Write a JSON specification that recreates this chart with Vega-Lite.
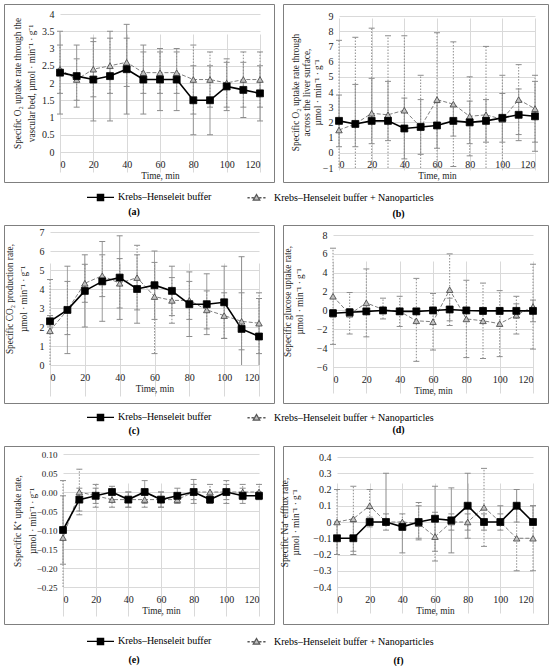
{
  "$schema": "https://vega.github.io/schema/vega-lite/v6.json",
  "background": "white",
  "padding": {"left": 3, "top": 3, "right": 0, "bottom": 0},
  "data": {"values": [
    {"p":"a","g":"N","t":0,"v":2.4,"lo":1.7,"hi":3.1},{"p":"a","g":"N","t":10,"v":2.1,"lo":1.5,"hi":2.7},{"p":"a","g":"N","t":20,"v":2.4,"lo":1.6,"hi":3.2},{"p":"a","g":"N","t":30,"v":2.5,"lo":1.7,"hi":3.3},{"p":"a","g":"N","t":40,"v":2.6,"lo":1.9,"hi":3.3},{"p":"a","g":"N","t":50,"v":2.3,"lo":1.7,"hi":2.9},{"p":"a","g":"N","t":60,"v":2.3,"lo":1.7,"hi":2.9},{"p":"a","g":"N","t":70,"v":2.3,"lo":1.7,"hi":2.9},{"p":"a","g":"N","t":80,"v":2.1,"lo":1.1,"hi":3.1},{"p":"a","g":"N","t":90,"v":2.1,"lo":1.3,"hi":2.9},{"p":"a","g":"N","t":100,"v":2.0,"lo":1.3,"hi":2.7},{"p":"a","g":"N","t":110,"v":2.1,"lo":1.3,"hi":2.9},{"p":"a","g":"N","t":120,"v":2.1,"lo":1.3,"hi":2.9},
    {"p":"a","g":"K","t":0,"v":2.3,"lo":1.1,"hi":3.5},{"p":"a","g":"K","t":10,"v":2.2,"lo":1.3,"hi":3.1},{"p":"a","g":"K","t":20,"v":2.1,"lo":0.9,"hi":3.3},{"p":"a","g":"K","t":30,"v":2.2,"lo":0.9,"hi":3.5},{"p":"a","g":"K","t":40,"v":2.4,"lo":1.1,"hi":3.7},{"p":"a","g":"K","t":50,"v":2.1,"lo":1.1,"hi":3.1},{"p":"a","g":"K","t":60,"v":2.1,"lo":1.2,"hi":3.0},{"p":"a","g":"K","t":70,"v":2.1,"lo":1.2,"hi":3.0},{"p":"a","g":"K","t":80,"v":1.5,"lo":0.5,"hi":2.5},{"p":"a","g":"K","t":90,"v":1.5,"lo":0.5,"hi":2.5},{"p":"a","g":"K","t":100,"v":1.9,"lo":1.2,"hi":2.6},{"p":"a","g":"K","t":110,"v":1.8,"lo":1.0,"hi":2.6},{"p":"a","g":"K","t":120,"v":1.7,"lo":0.9,"hi":2.5},
    {"p":"b","g":"N","t":0,"v":1.5,"lo":-4.4,"hi":7.4},{"p":"b","g":"N","t":10,"v":1.9,"lo":-3.8,"hi":7.6},{"p":"b","g":"N","t":20,"v":2.6,"lo":-3.0,"hi":8.2},{"p":"b","g":"N","t":30,"v":2.5,"lo":-2.7,"hi":7.7},{"p":"b","g":"N","t":40,"v":2.8,"lo":-2.1,"hi":7.7},{"p":"b","g":"N","t":50,"v":1.7,"lo":-1.7,"hi":5.1},{"p":"b","g":"N","t":60,"v":3.5,"lo":-0.9,"hi":7.9},{"p":"b","g":"N","t":70,"v":3.2,"lo":-0.9,"hi":7.3},{"p":"b","g":"N","t":80,"v":2.4,"lo":-0.2,"hi":5.0},{"p":"b","g":"N","t":90,"v":2.5,"lo":-2.0,"hi":7.0},{"p":"b","g":"N","t":100,"v":2.2,"lo":-1.5,"hi":5.1},{"p":"b","g":"N","t":110,"v":3.5,"lo":1.2,"hi":5.8},{"p":"b","g":"N","t":120,"v":2.9,"lo":0.7,"hi":5.1},
    {"p":"b","g":"K","t":0,"v":2.1,"lo":0.4,"hi":3.8},{"p":"b","g":"K","t":10,"v":1.9,"lo":0.4,"hi":4.5},{"p":"b","g":"K","t":20,"v":2.1,"lo":0.6,"hi":4.9},{"p":"b","g":"K","t":30,"v":2.1,"lo":0.8,"hi":4.7},{"p":"b","g":"K","t":40,"v":1.6,"lo":-0.4,"hi":3.6},{"p":"b","g":"K","t":50,"v":1.7,"lo":-0.1,"hi":3.5},{"p":"b","g":"K","t":60,"v":1.8,"lo":0.3,"hi":3.3},{"p":"b","g":"K","t":70,"v":2.1,"lo":1.1,"hi":3.1},{"p":"b","g":"K","t":80,"v":2.0,"lo":0.6,"hi":3.4},{"p":"b","g":"K","t":90,"v":2.1,"lo":0.7,"hi":3.5},{"p":"b","g":"K","t":100,"v":2.3,"lo":0.7,"hi":3.9},{"p":"b","g":"K","t":110,"v":2.5,"lo":0.8,"hi":4.2},{"p":"b","g":"K","t":120,"v":2.4,"lo":0.1,"hi":4.7},
    {"p":"c","g":"N","t":0,"v":1.8,"lo":-0.9,"hi":4.5},{"p":"c","g":"N","t":10,"v":2.9,"lo":1.6,"hi":4.4},{"p":"c","g":"N","t":20,"v":4.3,"lo":3.3,"hi":5.3},{"p":"c","g":"N","t":30,"v":4.7,"lo":3.6,"hi":5.8},{"p":"c","g":"N","t":40,"v":4.3,"lo":3.0,"hi":5.6},{"p":"c","g":"N","t":50,"v":4.6,"lo":2.9,"hi":6.3},{"p":"c","g":"N","t":60,"v":3.6,"lo":0.6,"hi":5.4},{"p":"c","g":"N","t":70,"v":3.4,"lo":2.2,"hi":4.6},{"p":"c","g":"N","t":80,"v":3.4,"lo":2.4,"hi":4.4},{"p":"c","g":"N","t":90,"v":2.9,"lo":1.9,"hi":3.9},{"p":"c","g":"N","t":100,"v":2.6,"lo":1.4,"hi":3.8},{"p":"c","g":"N","t":110,"v":2.3,"lo":0.8,"hi":3.8},{"p":"c","g":"N","t":120,"v":2.2,"lo":0.6,"hi":3.8},
    {"p":"c","g":"K","t":0,"v":2.3,"lo":2.0,"hi":2.6},{"p":"c","g":"K","t":10,"v":2.9,"lo":0.6,"hi":5.2},{"p":"c","g":"K","t":20,"v":3.9,"lo":2.0,"hi":5.8},{"p":"c","g":"K","t":30,"v":4.4,"lo":2.3,"hi":6.5},{"p":"c","g":"K","t":40,"v":4.6,"lo":2.4,"hi":6.8},{"p":"c","g":"K","t":50,"v":4.0,"lo":2.2,"hi":5.8},{"p":"c","g":"K","t":60,"v":4.2,"lo":2.4,"hi":6.0},{"p":"c","g":"K","t":70,"v":3.9,"lo":2.6,"hi":5.2},{"p":"c","g":"K","t":80,"v":3.2,"lo":1.5,"hi":4.9},{"p":"c","g":"K","t":90,"v":3.2,"lo":1.6,"hi":4.8},{"p":"c","g":"K","t":100,"v":3.3,"lo":1.4,"hi":5.2},{"p":"c","g":"K","t":110,"v":1.9,"lo":-1.9,"hi":5.7},{"p":"c","g":"K","t":120,"v":1.5,"lo":-0.5,"hi":3.5},
    {"p":"d","g":"N","t":0,"v":1.5,"lo":-3.6,"hi":6.6},{"p":"d","g":"N","t":10,"v":-0.4,"lo":-2.5,"hi":1.9},{"p":"d","g":"N","t":20,"v":0.8,"lo":-2.8,"hi":4.4},{"p":"d","g":"N","t":30,"v":0.1,"lo":-0.9,"hi":1.3},{"p":"d","g":"N","t":40,"v":-0.1,"lo":-1.7,"hi":1.5},{"p":"d","g":"N","t":50,"v":-1.1,"lo":-5.4,"hi":3.4},{"p":"d","g":"N","t":60,"v":-1.2,"lo":-4.2,"hi":1.8},{"p":"d","g":"N","t":70,"v":2.2,"lo":-1.6,"hi":6.0},{"p":"d","g":"N","t":80,"v":-0.9,"lo":-5.0,"hi":3.2},{"p":"d","g":"N","t":90,"v":-1.1,"lo":-5.1,"hi":2.9},{"p":"d","g":"N","t":100,"v":-1.4,"lo":-4.9,"hi":2.1},{"p":"d","g":"N","t":110,"v":-0.5,"lo":-2.5,"hi":1.5},{"p":"d","g":"N","t":120,"v":0.4,"lo":-4.1,"hi":4.9},
    {"p":"d","g":"K","t":0,"v":-0.3,"lo":-0.7,"hi":0.1},{"p":"d","g":"K","t":10,"v":-0.2,"lo":-0.6,"hi":0.2},{"p":"d","g":"K","t":20,"v":-0.1,"lo":-0.4,"hi":0.2},{"p":"d","g":"K","t":30,"v":0.0,"lo":-0.3,"hi":0.3},{"p":"d","g":"K","t":40,"v":-0.1,"lo":-0.4,"hi":0.2},{"p":"d","g":"K","t":50,"v":-0.1,"lo":-0.4,"hi":0.2},{"p":"d","g":"K","t":60,"v":0.0,"lo":-0.3,"hi":0.3},{"p":"d","g":"K","t":70,"v":0.1,"lo":-1.1,"hi":1.3},{"p":"d","g":"K","t":80,"v":0.0,"lo":-0.3,"hi":0.3},{"p":"d","g":"K","t":90,"v":-0.05,"lo":-0.4,"hi":0.3},{"p":"d","g":"K","t":100,"v":-0.05,"lo":-0.4,"hi":0.3},{"p":"d","g":"K","t":110,"v":-0.05,"lo":-0.8,"hi":0.7},{"p":"d","g":"K","t":120,"v":-0.05,"lo":-1.2,"hi":1.1},
    {"p":"e","g":"N","t":0,"v":-0.12,"lo":-0.27,"hi":0.03},{"p":"e","g":"N","t":10,"v":0.0,"lo":-0.06,"hi":0.06},{"p":"e","g":"N","t":20,"v":-0.01,"lo":-0.04,"hi":0.02},{"p":"e","g":"N","t":30,"v":-0.02,"lo":-0.04,"hi":0.0},{"p":"e","g":"N","t":40,"v":-0.02,"lo":-0.04,"hi":0.0},{"p":"e","g":"N","t":50,"v":-0.02,"lo":-0.04,"hi":0.0},{"p":"e","g":"N","t":60,"v":-0.02,"lo":-0.04,"hi":0.0},{"p":"e","g":"N","t":70,"v":-0.02,"lo":-0.03,"hi":-0.01},{"p":"e","g":"N","t":80,"v":0.0,"lo":-0.02,"hi":0.02},{"p":"e","g":"N","t":90,"v":0.0,"lo":-0.02,"hi":0.02},{"p":"e","g":"N","t":100,"v":0.0,"lo":-0.03,"hi":0.03},{"p":"e","g":"N","t":110,"v":0.0,"lo":-0.02,"hi":0.02},{"p":"e","g":"N","t":120,"v":0.0,"lo":-0.02,"hi":0.02},
    {"p":"e","g":"K","t":0,"v":-0.10,"lo":-0.19,"hi":-0.01},{"p":"e","g":"K","t":10,"v":-0.02,"lo":-0.05,"hi":0.01},{"p":"e","g":"K","t":20,"v":-0.01,"lo":-0.03,"hi":0.01},{"p":"e","g":"K","t":30,"v":0.0,"lo":-0.02,"hi":0.015},{"p":"e","g":"K","t":40,"v":-0.02,"lo":-0.04,"hi":0.0},{"p":"e","g":"K","t":50,"v":0.0,"lo":-0.03,"hi":0.03},{"p":"e","g":"K","t":60,"v":-0.02,"lo":-0.04,"hi":0.0},{"p":"e","g":"K","t":70,"v":-0.01,"lo":-0.03,"hi":0.01},{"p":"e","g":"K","t":80,"v":0.0,"lo":-0.03,"hi":0.033},{"p":"e","g":"K","t":90,"v":-0.02,"lo":-0.03,"hi":-0.01},{"p":"e","g":"K","t":100,"v":0.0,"lo":-0.02,"hi":0.02},{"p":"e","g":"K","t":110,"v":-0.01,"lo":-0.03,"hi":0.01},{"p":"e","g":"K","t":120,"v":-0.01,"lo":-0.02,"hi":0.0},
    {"p":"f","g":"N","t":0,"v":0.0,"lo":-0.2,"hi":0.2},{"p":"f","g":"N","t":10,"v":0.02,"lo":-0.18,"hi":0.22},{"p":"f","g":"N","t":20,"v":0.1,"lo":0.0,"hi":0.2},{"p":"f","g":"N","t":30,"v":0.0,"lo":-0.05,"hi":0.05},{"p":"f","g":"N","t":40,"v":0.0,"lo":-0.05,"hi":0.05},{"p":"f","g":"N","t":50,"v":-0.01,"lo":-0.11,"hi":0.12},{"p":"f","g":"N","t":60,"v":-0.09,"lo":-0.24,"hi":0.06},{"p":"f","g":"N","t":70,"v":0.0,"lo":-0.05,"hi":0.05},{"p":"f","g":"N","t":80,"v":0.0,"lo":-0.05,"hi":0.05},{"p":"f","g":"N","t":90,"v":0.09,"lo":-0.15,"hi":0.33},{"p":"f","g":"N","t":100,"v":0.0,"lo":-0.05,"hi":0.05},{"p":"f","g":"N","t":110,"v":-0.1,"lo":-0.3,"hi":0.1},{"p":"f","g":"N","t":120,"v":-0.1,"lo":-0.3,"hi":0.1},
    {"p":"f","g":"K","t":0,"v":-0.1,"lo":-0.2,"hi":0.0},{"p":"f","g":"K","t":10,"v":-0.1,"lo":-0.2,"hi":0.0},{"p":"f","g":"K","t":20,"v":0.0,"lo":-0.03,"hi":0.03},{"p":"f","g":"K","t":30,"v":0.0,"lo":0.0,"hi":0.3},{"p":"f","g":"K","t":40,"v":-0.03,"lo":-0.19,"hi":0.0},{"p":"f","g":"K","t":50,"v":0.0,"lo":-0.1,"hi":0.1},{"p":"f","g":"K","t":60,"v":0.02,"lo":-0.18,"hi":0.22},{"p":"f","g":"K","t":70,"v":0.01,"lo":-0.19,"hi":0.21},{"p":"f","g":"K","t":80,"v":0.1,"lo":-0.1,"hi":0.3},{"p":"f","g":"K","t":90,"v":0.0,"lo":-0.05,"hi":0.05},{"p":"f","g":"K","t":100,"v":0.0,"lo":0.0,"hi":0.1},{"p":"f","g":"K","t":110,"v":0.1,"lo":0.0,"hi":0.2},{"p":"f","g":"K","t":120,"v":0.0,"lo":0.0,"hi":0.1}
  ]},
  "columns": 2,
  "spacing": {"row": 43, "column": 9},
  "bounds": "flush",
  "resolve": {"scale": {"shape": "independent", "fill": "independent", "stroke": "independent"}, "legend": {"shape": "independent", "fill": "independent", "stroke": "independent"}},
  "concat": [
    {
      "width": 270, "height": 178,
      "transform": [{"filter": "datum.p==='a'"}],
      "title": {"text": "(a)", "orient": "bottom", "frame": "group", "anchor": "middle", "offset": 3.7, "dx": -5},
      "encoding": {"x": {"field": "t", "type": "quantitative", "scale": {"domain": [0, 120], "range": [56, 256], "nice": false, "zero": false}, "axis": {"values": [0, 20, 40, 60, 80, 100, 120], "labelOverlap": false, "title": "Time, min", "offset": -30}}},
      "layer": [
        {"mark": {"type": "rule", "color": "#8c8c8c", "strokeWidth": 1}, "encoding": {"y": {"field": "lo", "type": "quantitative", "scale": {"domain": [0, 4], "range": [148, 10], "nice": false, "zero": false, "clamp": true}, "axis": {"values": [0, 0.5, 1, 1.5, 2, 2.5, 3, 3.5, 4], "labelOverlap": false, "format": "~g", "offset": -56, "titleX": -46.4, "titleBaseline": "top", "titleLineHeight": 13.5, "title": ["Specific O₂ uptake rate through the", "vascular bed, µmol · min⁻¹ · g⁻¹"]}}, "y2": {"field": "hi"}, "strokeDash": {"condition": {"test": "datum.g==='N'", "value": [1.5, 1.5]}, "value": [1, 0]}}},
        {"transform": [{"filter": "datum.lo >= 0"}], "mark": {"type": "tick", "orient": "horizontal", "size": 6, "thickness": 1, "color": "#8c8c8c", "opacity": 1}, "encoding": {"y": {"field": "lo", "type": "quantitative", "scale": {"domain": [0, 4], "range": [148, 10], "nice": false, "zero": false, "clamp": true}, "axis": {"values": [0, 0.5, 1, 1.5, 2, 2.5, 3, 3.5, 4], "labelOverlap": false, "format": "~g", "offset": -56, "titleX": -46.4, "titleBaseline": "top", "titleLineHeight": 13.5, "title": ["Specific O₂ uptake rate through the", "vascular bed, µmol · min⁻¹ · g⁻¹"]}}}},
        {"mark": {"type": "tick", "orient": "horizontal", "size": 6, "thickness": 1, "color": "#8c8c8c", "opacity": 1}, "encoding": {"y": {"field": "hi", "type": "quantitative", "scale": {"domain": [0, 4], "range": [148, 10], "nice": false, "zero": false, "clamp": true}, "axis": {"values": [0, 0.5, 1, 1.5, 2, 2.5, 3, 3.5, 4], "labelOverlap": false, "format": "~g", "offset": -56, "titleX": -46.4, "titleBaseline": "top", "titleLineHeight": 13.5, "title": ["Specific O₂ uptake rate through the", "vascular bed, µmol · min⁻¹ · g⁻¹"]}}}},
        {"transform": [{"filter": "datum.g==='N'"}], "mark": {"type": "line", "color": "#7f7f7f", "strokeWidth": 1, "strokeDash": [4, 2]}, "encoding": {"y": {"field": "v", "type": "quantitative", "scale": {"domain": [0, 4], "range": [148, 10], "nice": false, "zero": false, "clamp": true}, "axis": {"values": [0, 0.5, 1, 1.5, 2, 2.5, 3, 3.5, 4], "labelOverlap": false, "format": "~g", "offset": -56, "titleX": -46.4, "titleBaseline": "top", "titleLineHeight": 13.5, "title": ["Specific O₂ uptake rate through the", "vascular bed, µmol · min⁻¹ · g⁻¹"]}}}},
        {"transform": [{"filter": "datum.g==='K'"}], "mark": {"type": "line", "color": "black", "strokeWidth": 1.6}, "encoding": {"y": {"field": "v", "type": "quantitative", "scale": {"domain": [0, 4], "range": [148, 10], "nice": false, "zero": false, "clamp": true}, "axis": {"values": [0, 0.5, 1, 1.5, 2, 2.5, 3, 3.5, 4], "labelOverlap": false, "format": "~g", "offset": -56, "titleX": -46.4, "titleBaseline": "top", "titleLineHeight": 13.5, "title": ["Specific O₂ uptake rate through the", "vascular bed, µmol · min⁻¹ · g⁻¹"]}}}},
        {"mark": {"type": "point", "filled": true, "opacity": 1, "strokeWidth": 0.8}, "encoding": {
          "y": {"field": "v", "type": "quantitative", "scale": {"domain": [0, 4], "range": [148, 10], "nice": false, "zero": false, "clamp": true}, "axis": {"values": [0, 0.5, 1, 1.5, 2, 2.5, 3, 3.5, 4], "labelOverlap": false, "format": "~g", "offset": -56, "titleX": -46.4, "titleBaseline": "top", "titleLineHeight": 13.5, "title": ["Specific O₂ uptake rate through the", "vascular bed, µmol · min⁻¹ · g⁻¹"]}},
          "shape": {"condition": {"test": "datum.g==='K'", "value": "square"}, "value": "triangle-up"},
          "fill": {"condition": {"test": "datum.g==='K'", "value": "black"}, "value": "#bfbfbf"},
          "stroke": {"condition": {"test": "datum.g==='K'", "value": "black"}, "value": "#404040"},
          "size": {"condition": {"test": "datum.g==='K'", "value": 48}, "value": 42}
        }},
        {"transform": [{"filter": "false"}], "mark": {"type": "point", "filled": true, "opacity": 1, "strokeWidth": 1.3}, "encoding": {
          "shape": {"field": "g", "type": "nominal", "scale": {"domain": ["K", "N"], "range": ["M-1,0H1M-0.23,-0.23H0.23V0.23H-0.23Z", "M-0.67,0H-0.5M-0.37,0H-0.2M0.2,0H0.37M0.5,0H0.67M0,-0.24L0.24,0.18H-0.24Z"]}, "legend": {"orient": "none", "legendX": 82, "legendY": 178.5, "direction": "horizontal", "title": null, "symbolSize": 729, "symbolStrokeWidth": 1.3, "labelExpr": "datum.value === 'K' ? 'Krebs–Henseleit buffer' : 'Krebs–Henseleit buffer + Nanoparticles'", "labelFont": "Liberation Serif", "labelFontSize": 10, "labelColor": "black", "labelLimit": 400, "labelOffset": 3, "columnPadding": 30}},
          "fill": {"field": "g", "type": "nominal", "scale": {"domain": ["K", "N"], "range": ["black", "#bfbfbf"]}},
          "stroke": {"field": "g", "type": "nominal", "scale": {"domain": ["K", "N"], "range": ["black", "#595959"]}}
        }}
      ]
    },
    {
      "width": 265, "height": 178,
      "transform": [{"filter": "datum.p==='b'"}],
      "title": {"text": "(b)", "orient": "bottom", "frame": "group", "anchor": "middle", "offset": 27, "dx": -17},
      "encoding": {"x": {"field": "t", "type": "quantitative", "scale": {"domain": [0, 120], "range": [56, 252], "nice": false, "zero": false}, "axis": {"values": [0, 20, 40, 60, 80, 100, 120], "labelOverlap": false, "title": "Time, min", "offset": -29.2}}},
      "layer": [
        {"mark": {"type": "rule", "color": "#8c8c8c", "strokeWidth": 1}, "encoding": {"y": {"field": "lo", "type": "quantitative", "scale": {"domain": [-1, 9], "range": [164, 12], "nice": false, "zero": false, "clamp": true}, "axis": {"values": [-1, 0, 1, 2, 3, 4, 5, 6, 7, 8, 9], "labelOverlap": false, "offset": -56, "titleX": -47.7, "titleBaseline": "top", "titleLineHeight": 11, "title": ["Specific O₂ uptake rate through", "across the liver surface,", "µmol · min⁻¹ · g⁻¹"]}}, "y2": {"field": "hi"}, "strokeDash": {"condition": {"test": "datum.g==='N'", "value": [1.5, 1.5]}, "value": [1, 0]}}},
        {"transform": [{"filter": "datum.lo >= -1"}], "mark": {"type": "tick", "orient": "horizontal", "size": 6, "thickness": 1, "color": "#8c8c8c", "opacity": 1}, "encoding": {"y": {"field": "lo", "type": "quantitative", "scale": {"domain": [-1, 9], "range": [164, 12], "nice": false, "zero": false, "clamp": true}, "axis": {"values": [-1, 0, 1, 2, 3, 4, 5, 6, 7, 8, 9], "labelOverlap": false, "offset": -56, "titleX": -47.7, "titleBaseline": "top", "titleLineHeight": 11, "title": ["Specific O₂ uptake rate through", "across the liver surface,", "µmol · min⁻¹ · g⁻¹"]}}}},
        {"mark": {"type": "tick", "orient": "horizontal", "size": 6, "thickness": 1, "color": "#8c8c8c", "opacity": 1}, "encoding": {"y": {"field": "hi", "type": "quantitative", "scale": {"domain": [-1, 9], "range": [164, 12], "nice": false, "zero": false, "clamp": true}, "axis": {"values": [-1, 0, 1, 2, 3, 4, 5, 6, 7, 8, 9], "labelOverlap": false, "offset": -56, "titleX": -47.7, "titleBaseline": "top", "titleLineHeight": 11, "title": ["Specific O₂ uptake rate through", "across the liver surface,", "µmol · min⁻¹ · g⁻¹"]}}}},
        {"transform": [{"filter": "datum.g==='N'"}], "mark": {"type": "line", "color": "#7f7f7f", "strokeWidth": 1, "strokeDash": [4, 2]}, "encoding": {"y": {"field": "v", "type": "quantitative", "scale": {"domain": [-1, 9], "range": [164, 12], "nice": false, "zero": false, "clamp": true}, "axis": {"values": [-1, 0, 1, 2, 3, 4, 5, 6, 7, 8, 9], "labelOverlap": false, "offset": -56, "titleX": -47.7, "titleBaseline": "top", "titleLineHeight": 11, "title": ["Specific O₂ uptake rate through", "across the liver surface,", "µmol · min⁻¹ · g⁻¹"]}}}},
        {"transform": [{"filter": "datum.g==='K'"}], "mark": {"type": "line", "color": "black", "strokeWidth": 1.6}, "encoding": {"y": {"field": "v", "type": "quantitative", "scale": {"domain": [-1, 9], "range": [164, 12], "nice": false, "zero": false, "clamp": true}, "axis": {"values": [-1, 0, 1, 2, 3, 4, 5, 6, 7, 8, 9], "labelOverlap": false, "offset": -56, "titleX": -47.7, "titleBaseline": "top", "titleLineHeight": 11, "title": ["Specific O₂ uptake rate through", "across the liver surface,", "µmol · min⁻¹ · g⁻¹"]}}}},
        {"mark": {"type": "point", "filled": true, "opacity": 1, "strokeWidth": 0.8}, "encoding": {
          "y": {"field": "v", "type": "quantitative", "scale": {"domain": [-1, 9], "range": [164, 12], "nice": false, "zero": false, "clamp": true}, "axis": {"values": [-1, 0, 1, 2, 3, 4, 5, 6, 7, 8, 9], "labelOverlap": false, "offset": -56, "titleX": -47.7, "titleBaseline": "top", "titleLineHeight": 11, "title": ["Specific O₂ uptake rate through", "across the liver surface,", "µmol · min⁻¹ · g⁻¹"]}},
          "shape": {"condition": {"test": "datum.g==='K'", "value": "square"}, "value": "triangle-up"},
          "fill": {"condition": {"test": "datum.g==='K'", "value": "black"}, "value": "#bfbfbf"},
          "stroke": {"condition": {"test": "datum.g==='K'", "value": "black"}, "value": "#404040"},
          "size": {"condition": {"test": "datum.g==='K'", "value": 48}, "value": 42}
        }}
      ]
    },
    {
      "width": 270, "height": 178,
      "transform": [{"filter": "datum.p==='c'"}],
      "title": {"text": "(c)", "orient": "bottom", "frame": "group", "anchor": "middle", "offset": 2.5, "dx": -5},
      "encoding": {"x": {"field": "t", "type": "quantitative", "scale": {"domain": [0, 120], "range": [46, 255], "nice": false, "zero": false}, "axis": {"values": [0, 20, 40, 60, 80, 100, 120], "labelOverlap": false, "title": "Time, min", "offset": -38}}},
      "layer": [
        {"mark": {"type": "rule", "color": "#8c8c8c", "strokeWidth": 1}, "encoding": {"y": {"field": "lo", "type": "quantitative", "scale": {"domain": [0, 7], "range": [140, 7], "nice": false, "zero": false, "clamp": true}, "axis": {"values": [0, 1, 2, 3, 4, 5, 6, 7], "labelOverlap": false, "offset": -46, "titleX": -44.4, "titleBaseline": "top", "titleLineHeight": 14, "title": ["Specific CO₂ production rate,", "µmol · min⁻¹ · g⁻¹"]}}, "y2": {"field": "hi"}, "strokeDash": {"condition": {"test": "datum.g==='N'", "value": [1.5, 1.5]}, "value": [1, 0]}}},
        {"transform": [{"filter": "datum.lo >= 0"}], "mark": {"type": "tick", "orient": "horizontal", "size": 6, "thickness": 1, "color": "#8c8c8c", "opacity": 1}, "encoding": {"y": {"field": "lo", "type": "quantitative", "scale": {"domain": [0, 7], "range": [140, 7], "nice": false, "zero": false, "clamp": true}, "axis": {"values": [0, 1, 2, 3, 4, 5, 6, 7], "labelOverlap": false, "offset": -46, "titleX": -44.4, "titleBaseline": "top", "titleLineHeight": 14, "title": ["Specific CO₂ production rate,", "µmol · min⁻¹ · g⁻¹"]}}}},
        {"mark": {"type": "tick", "orient": "horizontal", "size": 6, "thickness": 1, "color": "#8c8c8c", "opacity": 1}, "encoding": {"y": {"field": "hi", "type": "quantitative", "scale": {"domain": [0, 7], "range": [140, 7], "nice": false, "zero": false, "clamp": true}, "axis": {"values": [0, 1, 2, 3, 4, 5, 6, 7], "labelOverlap": false, "offset": -46, "titleX": -44.4, "titleBaseline": "top", "titleLineHeight": 14, "title": ["Specific CO₂ production rate,", "µmol · min⁻¹ · g⁻¹"]}}}},
        {"transform": [{"filter": "datum.g==='N'"}], "mark": {"type": "line", "color": "#7f7f7f", "strokeWidth": 1, "strokeDash": [4, 2]}, "encoding": {"y": {"field": "v", "type": "quantitative", "scale": {"domain": [0, 7], "range": [140, 7], "nice": false, "zero": false, "clamp": true}, "axis": {"values": [0, 1, 2, 3, 4, 5, 6, 7], "labelOverlap": false, "offset": -46, "titleX": -44.4, "titleBaseline": "top", "titleLineHeight": 14, "title": ["Specific CO₂ production rate,", "µmol · min⁻¹ · g⁻¹"]}}}},
        {"transform": [{"filter": "datum.g==='K'"}], "mark": {"type": "line", "color": "black", "strokeWidth": 1.6}, "encoding": {"y": {"field": "v", "type": "quantitative", "scale": {"domain": [0, 7], "range": [140, 7], "nice": false, "zero": false, "clamp": true}, "axis": {"values": [0, 1, 2, 3, 4, 5, 6, 7], "labelOverlap": false, "offset": -46, "titleX": -44.4, "titleBaseline": "top", "titleLineHeight": 14, "title": ["Specific CO₂ production rate,", "µmol · min⁻¹ · g⁻¹"]}}}},
        {"mark": {"type": "point", "filled": true, "opacity": 1, "strokeWidth": 0.8}, "encoding": {
          "y": {"field": "v", "type": "quantitative", "scale": {"domain": [0, 7], "range": [140, 7], "nice": false, "zero": false, "clamp": true}, "axis": {"values": [0, 1, 2, 3, 4, 5, 6, 7], "labelOverlap": false, "offset": -46, "titleX": -44.4, "titleBaseline": "top", "titleLineHeight": 14, "title": ["Specific CO₂ production rate,", "µmol · min⁻¹ · g⁻¹"]}},
          "shape": {"condition": {"test": "datum.g==='K'", "value": "square"}, "value": "triangle-up"},
          "fill": {"condition": {"test": "datum.g==='K'", "value": "black"}, "value": "#bfbfbf"},
          "stroke": {"condition": {"test": "datum.g==='K'", "value": "black"}, "value": "#404040"},
          "size": {"condition": {"test": "datum.g==='K'", "value": 48}, "value": 42}
        }},
        {"transform": [{"filter": "false"}], "mark": {"type": "point", "filled": true, "opacity": 1, "strokeWidth": 1.3}, "encoding": {
          "shape": {"field": "g", "type": "nominal", "scale": {"domain": ["K", "N"], "range": ["M-1,0H1M-0.23,-0.23H0.23V0.23H-0.23Z", "M-0.67,0H-0.5M-0.37,0H-0.2M0.2,0H0.37M0.5,0H0.67M0,-0.24L0.24,0.18H-0.24Z"]}, "legend": {"orient": "none", "legendX": 82, "legendY": 177.5, "direction": "horizontal", "title": null, "symbolSize": 729, "symbolStrokeWidth": 1.3, "labelExpr": "datum.value === 'K' ? 'Krebs–Henseleit buffer' : 'Krebs–Henseleit buffer + Nanoparticles'", "labelFont": "Liberation Serif", "labelFontSize": 10, "labelColor": "black", "labelLimit": 400, "labelOffset": 3, "columnPadding": 30}},
          "fill": {"field": "g", "type": "nominal", "scale": {"domain": ["K", "N"], "range": ["black", "#bfbfbf"]}},
          "stroke": {"field": "g", "type": "nominal", "scale": {"domain": ["K", "N"], "range": ["black", "#595959"]}}
        }}
      ]
    },
    {
      "width": 265, "height": 178,
      "transform": [{"filter": "datum.p==='d'"}],
      "title": {"text": "(d)", "orient": "bottom", "frame": "group", "anchor": "middle", "offset": 22, "dx": -17},
      "encoding": {"x": {"field": "t", "type": "quantitative", "scale": {"domain": [0, 120], "range": [50, 250], "nice": false, "zero": false}, "axis": {"values": [0, 20, 40, 60, 80, 100, 120], "labelOverlap": false, "title": "Time, min", "offset": -36}}},
      "layer": [
        {"mark": {"type": "rule", "color": "#8c8c8c", "strokeWidth": 1}, "encoding": {"y": {"field": "lo", "type": "quantitative", "scale": {"domain": [-6, 8], "range": [142, 10], "nice": false, "zero": false, "clamp": true}, "axis": {"values": [-6, -4, -2, 0, 2, 4, 6, 8], "labelOverlap": false, "offset": -50, "titleX": -50, "titleBaseline": "top", "titleLineHeight": 12.3, "title": ["Sepecific glucose uptake rate,", "µmol · min⁻¹ · g⁻¹"]}}, "y2": {"field": "hi"}, "strokeDash": {"condition": {"test": "datum.g==='N'", "value": [1.5, 1.5]}, "value": [1, 0]}}},
        {"transform": [{"filter": "datum.lo >= -6"}], "mark": {"type": "tick", "orient": "horizontal", "size": 6, "thickness": 1, "color": "#8c8c8c", "opacity": 1}, "encoding": {"y": {"field": "lo", "type": "quantitative", "scale": {"domain": [-6, 8], "range": [142, 10], "nice": false, "zero": false, "clamp": true}, "axis": {"values": [-6, -4, -2, 0, 2, 4, 6, 8], "labelOverlap": false, "offset": -50, "titleX": -50, "titleBaseline": "top", "titleLineHeight": 12.3, "title": ["Sepecific glucose uptake rate,", "µmol · min⁻¹ · g⁻¹"]}}}},
        {"mark": {"type": "tick", "orient": "horizontal", "size": 6, "thickness": 1, "color": "#8c8c8c", "opacity": 1}, "encoding": {"y": {"field": "hi", "type": "quantitative", "scale": {"domain": [-6, 8], "range": [142, 10], "nice": false, "zero": false, "clamp": true}, "axis": {"values": [-6, -4, -2, 0, 2, 4, 6, 8], "labelOverlap": false, "offset": -50, "titleX": -50, "titleBaseline": "top", "titleLineHeight": 12.3, "title": ["Sepecific glucose uptake rate,", "µmol · min⁻¹ · g⁻¹"]}}}},
        {"transform": [{"filter": "datum.g==='N'"}], "mark": {"type": "line", "color": "#7f7f7f", "strokeWidth": 1, "strokeDash": [4, 2]}, "encoding": {"y": {"field": "v", "type": "quantitative", "scale": {"domain": [-6, 8], "range": [142, 10], "nice": false, "zero": false, "clamp": true}, "axis": {"values": [-6, -4, -2, 0, 2, 4, 6, 8], "labelOverlap": false, "offset": -50, "titleX": -50, "titleBaseline": "top", "titleLineHeight": 12.3, "title": ["Sepecific glucose uptake rate,", "µmol · min⁻¹ · g⁻¹"]}}}},
        {"transform": [{"filter": "datum.g==='K'"}], "mark": {"type": "line", "color": "black", "strokeWidth": 1.6}, "encoding": {"y": {"field": "v", "type": "quantitative", "scale": {"domain": [-6, 8], "range": [142, 10], "nice": false, "zero": false, "clamp": true}, "axis": {"values": [-6, -4, -2, 0, 2, 4, 6, 8], "labelOverlap": false, "offset": -50, "titleX": -50, "titleBaseline": "top", "titleLineHeight": 12.3, "title": ["Sepecific glucose uptake rate,", "µmol · min⁻¹ · g⁻¹"]}}}},
        {"mark": {"type": "point", "filled": true, "opacity": 1, "strokeWidth": 0.8}, "encoding": {
          "y": {"field": "v", "type": "quantitative", "scale": {"domain": [-6, 8], "range": [142, 10], "nice": false, "zero": false, "clamp": true}, "axis": {"values": [-6, -4, -2, 0, 2, 4, 6, 8], "labelOverlap": false, "offset": -50, "titleX": -50, "titleBaseline": "top", "titleLineHeight": 12.3, "title": ["Sepecific glucose uptake rate,", "µmol · min⁻¹ · g⁻¹"]}},
          "shape": {"condition": {"test": "datum.g==='K'", "value": "square"}, "value": "triangle-up"},
          "fill": {"condition": {"test": "datum.g==='K'", "value": "black"}, "value": "#bfbfbf"},
          "stroke": {"condition": {"test": "datum.g==='K'", "value": "black"}, "value": "#404040"},
          "size": {"condition": {"test": "datum.g==='K'", "value": 48}, "value": 42}
        }}
      ]
    },
    {
      "width": 270, "height": 178,
      "transform": [{"filter": "datum.p==='e'"}],
      "title": {"text": "(e)", "orient": "bottom", "frame": "group", "anchor": "middle", "offset": 7.5, "dx": -5},
      "encoding": {"x": {"field": "t", "type": "quantitative", "scale": {"domain": [0, 120], "range": [59, 255], "nice": false, "zero": false}, "axis": {"values": [0, 20, 40, 60, 80, 100, 120], "labelOverlap": false, "title": "Time, min", "offset": -37}}},
      "layer": [
        {"mark": {"type": "rule", "color": "#8c8c8c", "strokeWidth": 1}, "encoding": {"y": {"field": "lo", "type": "quantitative", "scale": {"domain": [-0.25, 0.1], "range": [141, 8], "nice": false, "zero": false, "clamp": true}, "axis": {"values": [-0.25, -0.2, -0.15, -0.1, -0.05, 0, 0.05, 0.1], "labelOverlap": false, "labelFontSize": 9, "format": ".2f", "offset": -59, "titleX": -49.4, "titleBaseline": "top", "titleLineHeight": 15, "title": ["Sspecific K⁺ uptake rate,", "µmol · min⁻¹ · g⁻¹"]}}, "y2": {"field": "hi"}, "strokeDash": {"condition": {"test": "datum.g==='N'", "value": [1.5, 1.5]}, "value": [1, 0]}}},
        {"transform": [{"filter": "datum.lo >= -0.25"}], "mark": {"type": "tick", "orient": "horizontal", "size": 6, "thickness": 1, "color": "#8c8c8c", "opacity": 1}, "encoding": {"y": {"field": "lo", "type": "quantitative", "scale": {"domain": [-0.25, 0.1], "range": [141, 8], "nice": false, "zero": false, "clamp": true}, "axis": {"values": [-0.25, -0.2, -0.15, -0.1, -0.05, 0, 0.05, 0.1], "labelOverlap": false, "labelFontSize": 9, "format": ".2f", "offset": -59, "titleX": -49.4, "titleBaseline": "top", "titleLineHeight": 15, "title": ["Sspecific K⁺ uptake rate,", "µmol · min⁻¹ · g⁻¹"]}}}},
        {"mark": {"type": "tick", "orient": "horizontal", "size": 6, "thickness": 1, "color": "#8c8c8c", "opacity": 1}, "encoding": {"y": {"field": "hi", "type": "quantitative", "scale": {"domain": [-0.25, 0.1], "range": [141, 8], "nice": false, "zero": false, "clamp": true}, "axis": {"values": [-0.25, -0.2, -0.15, -0.1, -0.05, 0, 0.05, 0.1], "labelOverlap": false, "labelFontSize": 9, "format": ".2f", "offset": -59, "titleX": -49.4, "titleBaseline": "top", "titleLineHeight": 15, "title": ["Sspecific K⁺ uptake rate,", "µmol · min⁻¹ · g⁻¹"]}}}},
        {"transform": [{"filter": "datum.g==='N'"}], "mark": {"type": "line", "color": "#7f7f7f", "strokeWidth": 1, "strokeDash": [4, 2]}, "encoding": {"y": {"field": "v", "type": "quantitative", "scale": {"domain": [-0.25, 0.1], "range": [141, 8], "nice": false, "zero": false, "clamp": true}, "axis": {"values": [-0.25, -0.2, -0.15, -0.1, -0.05, 0, 0.05, 0.1], "labelOverlap": false, "labelFontSize": 9, "format": ".2f", "offset": -59, "titleX": -49.4, "titleBaseline": "top", "titleLineHeight": 15, "title": ["Sspecific K⁺ uptake rate,", "µmol · min⁻¹ · g⁻¹"]}}}},
        {"transform": [{"filter": "datum.g==='K'"}], "mark": {"type": "line", "color": "black", "strokeWidth": 1.6}, "encoding": {"y": {"field": "v", "type": "quantitative", "scale": {"domain": [-0.25, 0.1], "range": [141, 8], "nice": false, "zero": false, "clamp": true}, "axis": {"values": [-0.25, -0.2, -0.15, -0.1, -0.05, 0, 0.05, 0.1], "labelOverlap": false, "labelFontSize": 9, "format": ".2f", "offset": -59, "titleX": -49.4, "titleBaseline": "top", "titleLineHeight": 15, "title": ["Sspecific K⁺ uptake rate,", "µmol · min⁻¹ · g⁻¹"]}}}},
        {"mark": {"type": "point", "filled": true, "opacity": 1, "strokeWidth": 0.8}, "encoding": {
          "y": {"field": "v", "type": "quantitative", "scale": {"domain": [-0.25, 0.1], "range": [141, 8], "nice": false, "zero": false, "clamp": true}, "axis": {"values": [-0.25, -0.2, -0.15, -0.1, -0.05, 0, 0.05, 0.1], "labelOverlap": false, "labelFontSize": 9, "format": ".2f", "offset": -59, "titleX": -49.4, "titleBaseline": "top", "titleLineHeight": 15, "title": ["Sspecific K⁺ uptake rate,", "µmol · min⁻¹ · g⁻¹"]}},
          "shape": {"condition": {"test": "datum.g==='K'", "value": "square"}, "value": "triangle-up"},
          "fill": {"condition": {"test": "datum.g==='K'", "value": "black"}, "value": "#bfbfbf"},
          "stroke": {"condition": {"test": "datum.g==='K'", "value": "black"}, "value": "#404040"},
          "size": {"condition": {"test": "datum.g==='K'", "value": 48}, "value": 42}
        }},
        {"transform": [{"filter": "false"}], "mark": {"type": "point", "filled": true, "opacity": 1, "strokeWidth": 1.3}, "encoding": {
          "shape": {"field": "g", "type": "nominal", "scale": {"domain": ["K", "N"], "range": ["M-1,0H1M-0.23,-0.23H0.23V0.23H-0.23Z", "M-0.67,0H-0.5M-0.37,0H-0.2M0.2,0H0.37M0.5,0H0.67M0,-0.24L0.24,0.18H-0.24Z"]}, "legend": {"orient": "none", "legendX": 82, "legendY": 180.5, "direction": "horizontal", "title": null, "symbolSize": 729, "symbolStrokeWidth": 1.3, "labelExpr": "datum.value === 'K' ? 'Krebs–Henseleit buffer' : 'Krebs–Henseleit buffer + Nanoparticles'", "labelFont": "Liberation Serif", "labelFontSize": 10, "labelColor": "black", "labelLimit": 400, "labelOffset": 3, "columnPadding": 30}},
          "fill": {"field": "g", "type": "nominal", "scale": {"domain": ["K", "N"], "range": ["black", "#bfbfbf"]}},
          "stroke": {"field": "g", "type": "nominal", "scale": {"domain": ["K", "N"], "range": ["black", "#595959"]}}
        }}
      ]
    },
    {
      "width": 265, "height": 178,
      "transform": [{"filter": "datum.p==='f'"}],
      "title": {"text": "(f)", "orient": "bottom", "frame": "group", "anchor": "middle", "offset": 32, "dx": -17},
      "encoding": {"x": {"field": "t", "type": "quantitative", "scale": {"domain": [0, 120], "range": [54, 250], "nice": false, "zero": false}, "axis": {"values": [0, 20, 40, 60, 80, 100, 120], "labelOverlap": false, "title": "Time, min", "offset": -37}}},
      "layer": [
        {"mark": {"type": "rule", "color": "#8c8c8c", "strokeWidth": 1}, "encoding": {"y": {"field": "lo", "type": "quantitative", "scale": {"domain": [-0.4, 0.4], "range": [141, 11], "nice": false, "zero": false, "clamp": true}, "axis": {"values": [-0.4, -0.3, -0.2, -0.1, 0, 0.1, 0.2, 0.3, 0.4], "labelOverlap": false, "format": "~g", "offset": -54, "titleX": -56.4, "titleBaseline": "top", "titleLineHeight": 11.4, "title": ["Specific Na⁺ efflux rate,", "µmol · min⁻¹ · g⁻¹"]}}, "y2": {"field": "hi"}, "strokeDash": {"condition": {"test": "datum.g==='N'", "value": [1.5, 1.5]}, "value": [1, 0]}}},
        {"transform": [{"filter": "datum.lo >= -0.4"}], "mark": {"type": "tick", "orient": "horizontal", "size": 6, "thickness": 1, "color": "#8c8c8c", "opacity": 1}, "encoding": {"y": {"field": "lo", "type": "quantitative", "scale": {"domain": [-0.4, 0.4], "range": [141, 11], "nice": false, "zero": false, "clamp": true}, "axis": {"values": [-0.4, -0.3, -0.2, -0.1, 0, 0.1, 0.2, 0.3, 0.4], "labelOverlap": false, "format": "~g", "offset": -54, "titleX": -56.4, "titleBaseline": "top", "titleLineHeight": 11.4, "title": ["Specific Na⁺ efflux rate,", "µmol · min⁻¹ · g⁻¹"]}}}},
        {"mark": {"type": "tick", "orient": "horizontal", "size": 6, "thickness": 1, "color": "#8c8c8c", "opacity": 1}, "encoding": {"y": {"field": "hi", "type": "quantitative", "scale": {"domain": [-0.4, 0.4], "range": [141, 11], "nice": false, "zero": false, "clamp": true}, "axis": {"values": [-0.4, -0.3, -0.2, -0.1, 0, 0.1, 0.2, 0.3, 0.4], "labelOverlap": false, "format": "~g", "offset": -54, "titleX": -56.4, "titleBaseline": "top", "titleLineHeight": 11.4, "title": ["Specific Na⁺ efflux rate,", "µmol · min⁻¹ · g⁻¹"]}}}},
        {"transform": [{"filter": "datum.g==='N'"}], "mark": {"type": "line", "color": "#7f7f7f", "strokeWidth": 1, "strokeDash": [4, 2]}, "encoding": {"y": {"field": "v", "type": "quantitative", "scale": {"domain": [-0.4, 0.4], "range": [141, 11], "nice": false, "zero": false, "clamp": true}, "axis": {"values": [-0.4, -0.3, -0.2, -0.1, 0, 0.1, 0.2, 0.3, 0.4], "labelOverlap": false, "format": "~g", "offset": -54, "titleX": -56.4, "titleBaseline": "top", "titleLineHeight": 11.4, "title": ["Specific Na⁺ efflux rate,", "µmol · min⁻¹ · g⁻¹"]}}}},
        {"transform": [{"filter": "datum.g==='K'"}], "mark": {"type": "line", "color": "black", "strokeWidth": 1.6}, "encoding": {"y": {"field": "v", "type": "quantitative", "scale": {"domain": [-0.4, 0.4], "range": [141, 11], "nice": false, "zero": false, "clamp": true}, "axis": {"values": [-0.4, -0.3, -0.2, -0.1, 0, 0.1, 0.2, 0.3, 0.4], "labelOverlap": false, "format": "~g", "offset": -54, "titleX": -56.4, "titleBaseline": "top", "titleLineHeight": 11.4, "title": ["Specific Na⁺ efflux rate,", "µmol · min⁻¹ · g⁻¹"]}}}},
        {"mark": {"type": "point", "filled": true, "opacity": 1, "strokeWidth": 0.8}, "encoding": {
          "y": {"field": "v", "type": "quantitative", "scale": {"domain": [-0.4, 0.4], "range": [141, 11], "nice": false, "zero": false, "clamp": true}, "axis": {"values": [-0.4, -0.3, -0.2, -0.1, 0, 0.1, 0.2, 0.3, 0.4], "labelOverlap": false, "format": "~g", "offset": -54, "titleX": -56.4, "titleBaseline": "top", "titleLineHeight": 11.4, "title": ["Specific Na⁺ efflux rate,", "µmol · min⁻¹ · g⁻¹"]}},
          "shape": {"condition": {"test": "datum.g==='K'", "value": "square"}, "value": "triangle-up"},
          "fill": {"condition": {"test": "datum.g==='K'", "value": "black"}, "value": "#bfbfbf"},
          "stroke": {"condition": {"test": "datum.g==='K'", "value": "black"}, "value": "#404040"},
          "size": {"condition": {"test": "datum.g==='K'", "value": 48}, "value": 42}
        }}
      ]
    }
  ],
  "config": {
    "font": "Liberation Serif",
    "view": {"stroke": "#7f7f7f", "strokeWidth": 1, "fill": "white"},
    "axis": {"domain": false, "ticks": false, "grid": true, "gridColor": "#d9d9d9", "gridWidth": 1, "labelOverlap": false, "labelFont": "Liberation Serif", "labelFontSize": 10, "labelColor": "#222222", "titleFont": "Liberation Serif", "titleFontSize": 9.3, "titleFontWeight": "normal", "titleColor": "#222222", "titleLineHeight": 13.5},
    "axisX": {"labelPadding": 7, "titlePadding": 2},
    "axisY": {"labelPadding": 6, "titlePadding": 3},
    "title": {"font": "Liberation Serif", "fontSize": 10, "fontWeight": "bold", "color": "black"},
    "legend": {"padding": 0}
  }
}
